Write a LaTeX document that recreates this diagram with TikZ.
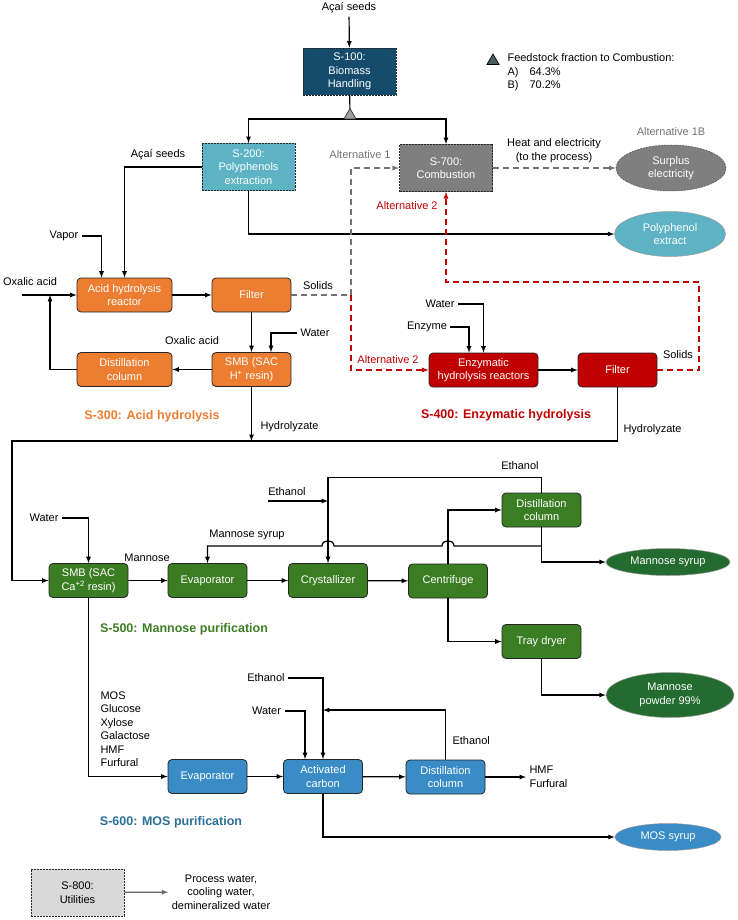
\documentclass[tikz,border=0pt]{standalone}
\usepackage{fontspec}
\setmainfont{Liberation Sans}
\usetikzlibrary{positioning,shapes.geometric}
\definecolor{handling}{HTML}{154C6C}
\definecolor{polyph}{HTML}{5DB3C3}
\definecolor{combust}{HTML}{7F7F7F}
\definecolor{acid}{HTML}{ED7D31}
\definecolor{enzym}{HTML}{C00000}
\definecolor{mannose}{HTML}{3B7D23}
\definecolor{mannprod}{HTML}{236B2E}
\definecolor{mos}{HTML}{3A8CC6}
\definecolor{mostitle}{HTML}{2A6F97}
\definecolor{legendtri}{HTML}{4B5D62}

\begin{document}
\begin{tikzpicture}[
    x=1pt, y=-1pt,
    every node/.style={font=\fontsize{11}{13.5}\selectfont, align=center},
    section/.style={draw=black!85, dash pattern=on 2pt off 1pt, line width=0.9pt, text=white, minimum width=93pt, minimum height=47pt, inner sep=1pt},
    unit/.style={draw=black!85, line width=0.8pt, rounded corners=4pt, text=white, minimum width=79pt, minimum height=34pt, inner sep=1pt},
    product/.style={ellipse, draw=black!40, line width=0.5pt, text=white, inner sep=0pt},
    title/.style={font=\fontsize{12.5}{15}\selectfont\bfseries},
    splitter/.style={regular polygon, regular polygon sides=3, minimum size=14pt, inner sep=0pt, line width=0.7pt},
    link/.style={draw=black, line width=1.2pt, ->, >=latex},
    altgray/.style={draw=black!55, line width=1.3pt, dash pattern=on 6pt off 4pt, ->, >=latex},
    altred/.style={draw=enzym, line width=1.3pt, dash pattern=on 6pt off 4pt, ->, >=latex}
]
\useasboundingbox (0,0) rectangle (737,920);

% S-100 and split
\node (seeds) at (349,8) {Açaí seeds};
\node[section, fill=handling] (s100) at (349.5,71.5) {S-100:\\Biomass\\Handling};
\coordinate (fork) at (350,119);
\draw[link] (seeds) -- (s100);
\draw[line width=1.2pt] (s100) -- (fork);

% S-200 and S-700
\node[section, fill=polyph] (s200) at (248.5,167) {S-200:\\Polyphenols\\extraction};
\node[section, fill=combust] (s700) at (446,168) {S-700:\\Combustion};
\draw[link] (fork) -| (s200);
\draw[link] (fork) -| (s700);
\node[splitter, fill=gray!75, draw=black!80] (split) at (350,115.5) {};

% Legend
\node[splitter, fill=legendtri, draw=black] (legtri) at (493,61) {};
\node[anchor=west, align=left] (legtxt) at (504,72.5) {Feedstock fraction to Combustion:\\A)\hspace{11pt}64.3\%\\B)\hspace{11pt}70.2\%};

% Combustion outputs
\node[product, fill=combust, draw=black!70, dash pattern=on 2pt off 1pt, minimum width=110pt, minimum height=46pt] (surplus) at (671,168) {Surplus\\electricity};
\node[text=black!55] (alt1b) at (671,132) {Alternative 1B};
\draw[altgray] (s700) -- (surplus);
\node (heat) at (554,150.5) {Heat and electricity\\(to the process)};

\node[product, fill=polyph, minimum width=111pt, minimum height=45pt] (polyext) at (670,234) {Polyphenol\\extract};
\draw[link] (s200) |- (polyext);

% S-300: Acid hydrolysis
\node[unit, fill=acid, minimum width=95pt] (ahr) at (124.5,295) {Acid hydrolysis\\reactor};
\node[unit, fill=acid] (filter3) at (251.5,295) {Filter};
\node[unit, fill=acid] (smbh) at (251.5,369.5) {SMB (SAC\\H\textsuperscript{+} resin)};
\node[unit, fill=acid, minimum width=95pt] (dist3) at (124.5,369.5) {Distillation\\column};
\node[title, text=acid] (t300) at (152,416) {S-300: Acid hydrolysis};

\node (seeds2) at (158,155) {Açaí seeds};
\draw[link] (s200.west) -| (ahr);
\node (vapor) at (64,236) {Vapor};
\draw[link] (vapor.east) -| ([xshift=-23pt]ahr.north);
\node (oxal1) at (30,282) {Oxalic acid};
\coordinate (oxin) at (22,295);
\coordinate (oxmerge) at (50,295);
\draw[link] (oxin) -- (ahr);
\draw[link] (dist3) -| (oxmerge);
\draw[link] (ahr) -- (filter3);
\draw[link] (filter3) -- (smbh);
\node[anchor=west] (water3) at (297,333) {Water};
\draw[link] (water3.west) -| ([xshift=19.5pt]smbh.north);
\draw[link] (smbh) -- (dist3);
\node (oxal2) at (192,341) {Oxalic acid};

% Alternatives 1 and 2
\coordinate (alt1) at (351,295);
\node (solids3) at (318,286) {Solids};
\draw[altgray] (filter3) -- (alt1) |- (s700);
\node[text=black!55] (alt1txt) at (360,155) {Alternative 1};
\node[text=enzym] (alt2a) at (388,360) {Alternative 2};
\node[text=enzym] (alt2b) at (407,206) {Alternative 2};

% S-400: Enzymatic hydrolysis
\node[unit, fill=enzym, minimum width=109pt] (enz) at (483.5,370) {Enzymatic\\hydrolysis reactors};
\node[unit, fill=enzym] (filter4) at (617.5,370) {Filter};
\node[title, text=enzym] (t400) at (506,415) {S-400: Enzymatic hydrolysis};
\draw[altred] (alt1) |- (enz);
\coordinate (solidsturn) at (699,282);
\draw[altred] (filter4.east) -| (solidsturn) -| (s700);
\node (solids4) at (678,355) {Solids};
\node (water4) at (440,304) {Water};
\draw[link] (water4.east) -| (enz.north);
\node (enzyme) at (427,327) {Enzyme};
\draw[link] (enzyme.east) -| ([xshift=-14.5pt]enz.north);
\draw[link] (enz) -- (filter4);

% Hydrolyzate collection
\coordinate (hydmerge) at (251.5,441);
\coordinate (hydleft) at (12,441);
\draw[link] (smbh) -- (hydmerge);
\node[anchor=west] (hyd3) at (257,427) {Hydrolyzate};
\node[anchor=west] (hyd4) at (620,430) {Hydrolyzate};

% S-500: Mannose purification
\node[unit, fill=mannose] (smbc) at (88.5,580.5) {SMB (SAC\\Ca\textsuperscript{+2} resin)};
\node[unit, fill=mannose] (evap5) at (207.5,580.5) {Evaporator};
\node[unit, fill=mannose] (cryst) at (328,580.5) {Crystallizer};
\node[unit, fill=mannose] (centri) at (448,581) {Centrifuge};
\node[unit, fill=mannose] (dist5) at (541.5,510) {Distillation\\column};
\node[unit, fill=mannose] (tray) at (541.5,641.5) {Tray dryer};
\node[product, fill=mannprod, minimum width=124pt, minimum height=27pt] (msyrup) at (668,562) {Mannose syrup};
\node[product, fill=mannprod, minimum width=128pt, minimum height=45pt] (mpowder) at (670,695) {Mannose\\powder 99\%};
\node[title, text=mannose] (t500) at (184,629) {S-500: Mannose purification};

\draw[link] (filter4.south) |- (hydleft) |- (smbc.west);
\node (water5) at (44,518) {Water};
\draw[link] (water5.east) -| (smbc.north);
\draw[link] (smbc) -- (evap5);
\node (mann) at (147,558) {Mannose};
\draw[link] (evap5) -- (cryst);
\draw[link] (cryst) -- (centri);
\draw[link] (centri.north) |- (dist5.west);
\draw[link] (centri.south) |- (tray.west);
\draw[link] (dist5.north) -- ++(0,-15) -| (cryst.north);
\node (etoh5top) at (520,466) {Ethanol};
\node (etoh5) at (287,492) {Ethanol};
\coordinate (etoh5in) at (268,501);
\draw[link] (etoh5in) -- (cryst.north |- etoh5in);
\draw[link] (dist5.south) |- (msyrup.west);
\coordinate (msrec) at (541.5,546);
\draw[link] (msrec) -- (454,546) .. controls (454,539) and (442,539) .. (442,546)
    -- (334,546) .. controls (334,539) and (322,539) .. (322,546) -| (evap5.north);
\node (msyrtxt) at (247,535) {Mannose syrup};
\draw[link] (tray.south) |- (mpowder.west);

% S-600: MOS purification
\node[unit, fill=mos] (evap6) at (207.5,776.5) {Evaporator};
\node[unit, fill=mos] (actc) at (323,776.5) {Activated\\carbon};
\node[unit, fill=mos] (dist6) at (445.5,777) {Distillation\\column};
\node[product, fill=mos, minimum width=106pt, minimum height=27pt] (mossyrup) at (668,837) {MOS syrup};
\node[title, text=mostitle] (t600) at (171,822) {S-600: MOS purification};

\draw[link] (smbc.south) |- (evap6.west);
\node[anchor=west, align=left] (sugars) at (97,729) {MOS\\Glucose\\Xylose\\Galactose\\HMF\\Furfural};
\draw[link] (evap6) -- (actc);
\draw[link] (actc) -- (dist6);
\node (etoh6) at (266,678) {Ethanol};
\draw[link] (etoh6.east) -| (actc.north);
\node (water6) at (266.5,711) {Water};
\draw[link] (water6.east) -| ([xshift=-18pt]actc.north);
\coordinate (etoh6merge) at (323,710);
\draw[link] (dist6.north) |- (etoh6merge);
\node[anchor=west] (etoh6rec) at (449,741) {Ethanol};
\node[anchor=west, align=left] (hmf) at (526,777) {HMF\\Furfural};
\draw[link] (dist6) -- (hmf);
\draw[link] (actc.south) |- (mossyrup.west);

% S-800: Utilities
\node[section, fill=gray!30, text=black] (s800) at (77.5,892.5) {S-800:\\Utilities};
\node (utiltxt) at (221,892) {Process water,\\cooling water,\\demineralized water};
\draw[link, draw=black!60] (s800) -- (utiltxt);

\end{tikzpicture}
\end{document}
